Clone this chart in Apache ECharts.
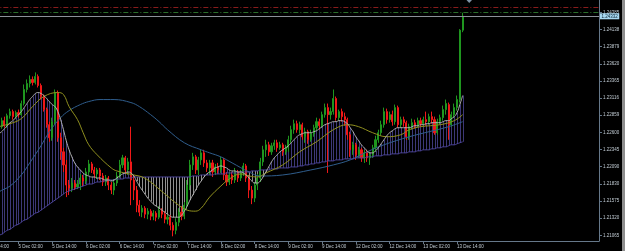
<!DOCTYPE html>
<html>
<head>
<meta charset="utf-8">
<script src="https://cdn.jsdelivr.net/npm/echarts@6/dist/echarts.min.js"></script>
<style>html,body{margin:0;padding:0;background:#000;}#c{width:625px;height:251px;}</style>
</head>
<body>
<div id="c"></div>
<script>
// ---- tick labels (every 12 hourly bars) ----
const tickLabels = ['4 Dec 14:00','5 Dec 02:00','5 Dec 14:00','6 Dec 02:00','6 Dec 14:00','7 Dec 02:00','7 Dec 14:00','8 Dec 02:00','8 Dec 14:00','9 Dec 02:00','9 Dec 14:00','12 Dec 02:00','12 Dec 14:00','13 Dec 02:00','13 Dec 14:00'];
const barsPerTick = 12;
const totalSlots = 219; // hourly slots incl. empty chart-shift area
const yTickLabels = [1.24385,1.24138,1.23879,1.23620,1.23365,1.23116,1.22859,1.22600,1.22345,1.22090,1.21830,1.21575,1.21320,1.21065];
const bidPrice = 1.24332;
const redLevel = 1.24466;
const greenLevel = 1.24385;

// ---- hourly candles: [open, close, low, high] ----
const candles = [
[1.22790,1.22820,1.22745,1.22865],[1.22820,1.22760,1.22715,1.22850],[1.22760,1.22850,1.22730,1.22895],[1.22850,1.22910,1.22820,1.22955],
[1.22910,1.22940,1.22865,1.22985],[1.22940,1.22685,1.22640,1.22970],[1.22685,1.22775,1.22655,1.22820],[1.22775,1.22700,1.22670,1.22835],
[1.22700,1.22850,1.22670,1.22880],[1.22850,1.22910,1.22805,1.22955],[1.22910,1.22835,1.22790,1.22940],[1.22835,1.22895,1.22805,1.22925],
[1.22895,1.22865,1.22820,1.22940],[1.22865,1.23030,1.22850,1.23075],[1.23030,1.23240,1.23000,1.23315],[1.23240,1.23330,1.23195,1.23390],
[1.23330,1.23390,1.23270,1.23450],[1.23390,1.23345,1.23300,1.23435],[1.23345,1.23435,1.23315,1.23495],[1.23435,1.23300,1.23270,1.23465],
[1.23300,1.23135,1.23090,1.23330],[1.23135,1.22940,1.22910,1.23165],[1.22940,1.22715,1.22670,1.22970],[1.22715,1.22520,1.22460,1.22760],
[1.22520,1.22760,1.22475,1.22820],[1.22760,1.23195,1.22715,1.23240],[1.23195,1.22520,1.22460,1.23225],[1.22520,1.22310,1.22190,1.22595],
[1.22310,1.22115,1.22010,1.22370],[1.22115,1.21815,1.21635,1.22190],[1.21815,1.21770,1.21665,1.21890],[1.21770,1.21845,1.21710,1.21920],
[1.21845,1.21785,1.21740,1.21890],[1.21785,1.21830,1.21755,1.21890],[1.21830,1.21920,1.21740,1.21980],[1.21920,1.21875,1.21800,1.21965],
[1.21875,1.22010,1.21830,1.22070],[1.22010,1.22130,1.21965,1.22190],[1.22130,1.22040,1.21995,1.22160],[1.22040,1.21980,1.21920,1.22085],
[1.21980,1.22040,1.21905,1.22070],[1.22040,1.21950,1.21890,1.22070],[1.21950,1.21860,1.21800,1.21995],[1.21860,1.21920,1.21800,1.21965],
[1.21920,1.21815,1.21740,1.21950],[1.21815,1.21740,1.21680,1.21860],[1.21740,1.21845,1.21665,1.21905],[1.21845,1.21950,1.21800,1.22010],
[1.21950,1.22115,1.21920,1.22190],[1.22115,1.22220,1.22070,1.22265],[1.22220,1.22040,1.21980,1.22250],[1.22040,1.22160,1.21965,1.22220],
[1.22160,1.21890,1.21515,1.22685],[1.21890,1.21740,1.21590,1.21965],[1.21740,1.21515,1.21410,1.21800],[1.21515,1.21410,1.21350,1.21590],
[1.21410,1.21470,1.21335,1.21515],[1.21470,1.21380,1.21320,1.21500],[1.21380,1.21425,1.21305,1.21470],[1.21425,1.21350,1.21290,1.21455],
[1.21350,1.21395,1.21290,1.21440],[1.21395,1.21335,1.21275,1.21425],[1.21335,1.21440,1.21305,1.21500],[1.21440,1.21380,1.21320,1.21470],
[1.21380,1.21305,1.21245,1.21425],[1.21305,1.21335,1.21230,1.21380],[1.21335,1.21215,1.21140,1.21365],[1.21215,1.21140,1.21050,1.21260],
[1.21140,1.21260,1.21080,1.21320],[1.21260,1.21410,1.21200,1.21470],[1.21410,1.21350,1.21290,1.21500],[1.21350,1.21515,1.21305,1.21560],
[1.21515,1.21815,1.21440,1.21890],[1.21815,1.22115,1.21740,1.22190],[1.22115,1.22235,1.22040,1.22295],[1.22235,1.22040,1.21980,1.22265],
[1.22040,1.22190,1.21965,1.22235],[1.22190,1.22295,1.22115,1.22340],[1.22295,1.22145,1.22085,1.22340],[1.22145,1.22070,1.22010,1.22190],
[1.22070,1.22145,1.21965,1.22190],[1.22145,1.22010,1.21935,1.22190],[1.22010,1.22085,1.21965,1.22130],[1.22085,1.22040,1.21980,1.22145],
[1.22040,1.22190,1.21995,1.22235],[1.22190,1.21965,1.21890,1.22220],[1.21965,1.21860,1.21800,1.22010],[1.21860,1.21965,1.21815,1.22010],
[1.21965,1.21890,1.21830,1.22010],[1.21890,1.22010,1.21845,1.22070],[1.22010,1.21920,1.21860,1.22040],[1.21920,1.21995,1.21875,1.22040],
[1.21995,1.22100,1.21950,1.22145],[1.22100,1.21920,1.21860,1.22130],[1.21920,1.21740,1.21620,1.21965],[1.21740,1.21620,1.21530,1.21800],
[1.21620,1.21815,1.21560,1.21860],[1.21815,1.21920,1.21740,1.21980],[1.21920,1.22160,1.21860,1.22220],[1.22160,1.22340,1.22100,1.22400],
[1.22340,1.22415,1.22235,1.22490],[1.22415,1.22310,1.22250,1.22460],[1.22310,1.22400,1.22265,1.22445],[1.22400,1.22445,1.22340,1.22490],
[1.22445,1.22370,1.22310,1.22490],[1.22370,1.22415,1.22340,1.22460],[1.22415,1.22310,1.22250,1.22445],[1.22310,1.22370,1.22265,1.22415],
[1.22370,1.22490,1.22310,1.22550],[1.22490,1.22640,1.22445,1.22700],[1.22640,1.22730,1.22580,1.22790],[1.22730,1.22640,1.22595,1.22775],
[1.22640,1.22715,1.22580,1.22760],[1.22715,1.22535,1.22490,1.22745],[1.22535,1.22610,1.22445,1.22670],[1.22610,1.22490,1.22430,1.22640],
[1.22490,1.22580,1.22460,1.22640],[1.22580,1.22670,1.22535,1.22715],[1.22670,1.22760,1.22625,1.22820],[1.22760,1.22700,1.22640,1.22805],
[1.22700,1.22865,1.22670,1.22910],[1.22865,1.22970,1.22820,1.23030],[1.22970,1.22865,1.21995,1.23030],[1.22865,1.22910,1.22790,1.22970],
[1.22910,1.23105,1.22865,1.23240],[1.23105,1.22820,1.22775,1.23135],[1.22820,1.22910,1.22775,1.22940],[1.22910,1.22835,1.22760,1.22955],
[1.22835,1.22790,1.22700,1.22895],[1.22790,1.22565,1.22490,1.22820],[1.22565,1.22340,1.22235,1.22610],[1.22340,1.22415,1.22265,1.22460],
[1.22415,1.22265,1.22190,1.22445],[1.22265,1.22340,1.22220,1.22385],[1.22340,1.22220,1.22160,1.22370],[1.22220,1.22295,1.22145,1.22340],
[1.22295,1.22220,1.22160,1.22340],[1.22220,1.22265,1.22115,1.22310],[1.22265,1.22370,1.22220,1.22415],[1.22370,1.22490,1.22310,1.22550],
[1.22490,1.22595,1.22445,1.22640],[1.22595,1.22715,1.22550,1.22775],[1.22715,1.22910,1.22670,1.22970],[1.22910,1.22790,1.22730,1.22955],
[1.22790,1.22865,1.22745,1.22910],[1.22865,1.22760,1.22700,1.22925],[1.22760,1.22970,1.22715,1.23015],[1.22970,1.22715,1.22670,1.23000],
[1.22715,1.22790,1.22670,1.22835],[1.22790,1.22745,1.22685,1.22835],[1.22745,1.22535,1.22490,1.22775],[1.22535,1.22685,1.22490,1.22730],
[1.22685,1.22745,1.22640,1.22805],[1.22745,1.22700,1.22655,1.22790],[1.22700,1.22775,1.22670,1.22820],[1.22775,1.22730,1.22685,1.22820],
[1.22730,1.22790,1.22700,1.22835],[1.22790,1.22760,1.22700,1.22910],[1.22760,1.22835,1.22715,1.22880],[1.22835,1.22790,1.22730,1.22910],
[1.22790,1.22595,1.22565,1.22835],[1.22595,1.22760,1.22565,1.22805],[1.22760,1.22820,1.22715,1.22865],[1.22820,1.22940,1.22775,1.23000],
[1.22940,1.23030,1.22865,1.23090],[1.23015,1.22715,1.22490,1.23045],[1.22715,1.22865,1.22685,1.22910],[1.22865,1.22970,1.22820,1.23030],
[1.22970,1.23090,1.22925,1.23150],[1.23090,1.24125,1.23045,1.24140],[1.24125,1.24332,1.24095,1.24385]
];

// ---- fast MA (grey) and slowest MA (slate) per bar ----
const maFast = [
1.22490,1.22505,1.22520,1.22535,1.22550,1.22580,1.22610,1.22655,1.22700,1.22745,1.22775,1.22820,1.22865,1.22910,1.22970,1.23030,
1.23090,1.23135,1.23180,1.23195,1.23180,1.23150,1.23105,1.23060,1.23015,1.22985,1.22910,1.22790,1.22640,1.22475,1.22340,1.22235,
1.22145,1.22085,1.22040,1.21995,1.21965,1.21950,1.21935,1.21935,1.21920,1.21920,1.21905,1.21890,1.21890,1.21875,1.21890,1.21920,
1.21950,1.21980,1.21995,1.22010,1.21995,1.21950,1.21875,1.21800,1.21740,1.21680,1.21620,1.21575,1.21530,1.21500,1.21470,1.21440,
1.21410,1.21380,1.21350,1.21335,1.21335,1.21335,1.21365,1.21425,1.21500,1.21590,1.21665,1.21740,1.21815,1.21875,1.21935,1.21980,
1.22010,1.22040,1.22070,1.22085,1.22100,1.22085,1.22070,1.22040,1.22025,1.22025,1.22010,1.22010,1.21995,1.21965,1.21920,1.21875,
1.21845,1.21845,1.21875,1.21935,1.22010,1.22085,1.22160,1.22220,1.22265,1.22310,1.22340,1.22370,1.22400,1.22445,1.22490,1.22535,
1.22565,1.22580,1.22595,1.22595,1.22595,1.22610,1.22625,1.22655,1.22685,1.22715,1.22730,1.22745,1.22760,1.22760,1.22775,1.22775,
1.22760,1.22730,1.22670,1.22610,1.22535,1.22475,1.22415,1.22370,1.22325,1.22295,1.22295,1.22325,1.22370,1.22430,1.22490,1.22550,
1.22595,1.22625,1.22655,1.22670,1.22670,1.22670,1.22670,1.22670,1.22685,1.22700,1.22700,1.22715,1.22715,1.22730,1.22730,1.22745,
1.22745,1.22745,1.22745,1.22760,1.22775,1.22775,1.22805,1.22835,1.22895,1.23015,1.23150
];
const maSlow = [
1.20960,1.20975,1.20990,1.21020,1.21035,1.21065,1.21080,1.21110,1.21140,1.21155,1.21185,1.21215,1.21230,1.21260,1.21290,1.21305,
1.21335,1.21365,1.21395,1.21410,1.21440,1.21470,1.21500,1.21530,1.21560,1.21590,1.21620,1.21650,1.21680,1.21710,1.21725,1.21740,
1.21755,1.21770,1.21785,1.21800,1.21815,1.21830,1.21830,1.21845,1.21860,1.21860,1.21875,1.21875,1.21890,1.21890,1.21890,1.21905,
1.21905,1.21905,1.21920,1.21920,1.21920,
1.21935,1.21935,1.21935,1.21935,1.21935,1.21935,1.21935,1.21935,1.21935,1.21935,1.21935,1.21935,1.21935,1.21935,1.21935,1.21935,
1.21935,1.21935,1.21935,1.21935,1.21935,
1.21950,1.21950,1.21950,1.21965,1.21965,1.21965,1.21965,1.21965,1.21980,1.21980,1.21980,1.21980,
1.21995,1.21995,1.21995,1.21995,1.21995,1.22010,1.22010,1.22010,1.22010,1.22025,1.22025,1.22025,
1.22040,1.22040,1.22040,1.22040,1.22055,1.22055,1.22055,1.22070,1.22070,1.22070,1.22070,1.22085,1.22085,1.22085,
1.22100,1.22100,1.22115,1.22115,1.22130,1.22130,1.22145,1.22145,1.22160,1.22160,1.22175,1.22175,1.22175,
1.22190,1.22190,1.22190,1.22205,1.22205,1.22205,1.22205,1.22220,1.22220,1.22220,1.22220,1.22235,1.22235,1.22235,
1.22250,1.22250,1.22250,1.22265,1.22265,1.22265,1.22280,1.22280,1.22280,1.22295,1.22295,1.22295,1.22310,1.22310,1.22310,
1.22325,1.22325,1.22340,1.22340,1.22340,1.22355,1.22355,1.22370,1.22370,1.22385,1.22385,1.22400,1.22415,1.22415,1.22430,1.22445,1.22460
];
// ---- medium (olive) and slow (blue) MAs, read at sampled bars: [barIndex, price] ----
const maMid = [
[0,1.22610],[5,1.22685],[9,1.22730],[13,1.22805],[17,1.22985],[21,1.23135],[26,1.23195],[28,1.23165],[30,1.22985],[33,1.22790],
[35,1.22595],[37,1.22415],[40,1.22265],[45,1.22070],[47,1.22025],[53,1.21965],[56,1.21935],[59,1.21860],[62,1.21755],[65,1.21650],
[68,1.21545],[72,1.21440],[75,1.21425],[77,1.21470],[80,1.21635],[84,1.21800],[87,1.21905],[91,1.21980],[94,1.21950],[97,1.21935],
[100,1.21995],[106,1.22115],[112,1.22310],[118,1.22460],[124,1.22640],[129,1.22715],[133,1.22685],[138,1.22595],[143,1.22535],
[148,1.22565],[151,1.22640],[155,1.22685],[162,1.22715],[167,1.22775],[170,1.22865]
];
const maSlowBlue = [
[0,1.21515],[5,1.21710],[9,1.21800],[13,1.21965],[16,1.22145],[20,1.22400],[23,1.22610],[27,1.22820],[30,1.22925],[34,1.23015],
[37,1.23060],[41,1.23090],[46,1.23090],[52,1.23045],[55,1.22985],[59,1.22865],[62,1.22760],[65,1.22640],[71,1.22445],[77,1.22340],
[80,1.22295],[84,1.22235],[88,1.22145],[94,1.22010],[98,1.21950],[106,1.21965],[116,1.22040],[124,1.22115],[130,1.22190],
[136,1.22310],[142,1.22415],[151,1.22535],[158,1.22610],[165,1.22685],[170,1.22760]
];

// ---- categories built from tick labels ----
const categories = [];
for (let k = 0; k < totalSlots; k++) {
  const t = Math.floor(k / barsPerTick), h = k % barsPerTick;
  categories.push(h === 0 && t < tickLabels.length ? tickLabels[t] : 'slot' + k);
}
const isTick = (idx, val) => tickLabels.indexOf(val) >= 0;

const axisCol = '#66788a';
const txtCol = '#c2ccd4';
const font = 'Liberation Sans';

const chart = echarts.init(document.getElementById('c'), null, {renderer: 'canvas'});
chart.setOption({
  backgroundColor: '#000000',
  animation: false,
  grid: {left: -16.65, right: 26, top: 0, bottom: 10, containLabel: false, outerBoundsMode: 'none'},
  xAxis: {
    type: 'category', data: categories, boundaryGap: true,
    axisLine: {show: true, lineStyle: {color: axisCol, width: 1}},
    axisTick: {show: true, alignWithLabel: true, interval: isTick, length: 3, lineStyle: {color: axisCol}},
    axisLabel: {interval: isTick, align: 'left', color: txtCol, fontSize: 4.5, fontFamily: font, margin: 3, hideOverlap: false},
    splitLine: {show: false}
  },
  yAxis: {
    type: 'value', position: 'right', min: 1.20980, max: 1.24575, scale: true,
    axisLine: {show: true, lineStyle: {color: axisCol, width: 1}},
    axisTick: {show: true, length: 3, customValues: yTickLabels, lineStyle: {color: axisCol}},
    axisLabel: {customValues: yTickLabels, color: txtCol, fontSize: 4.5, fontFamily: font, margin: 4,
      formatter: v => v.toFixed(5)},
    splitLine: {show: false}
  },
  graphic: [
    {type: 'rect', shape: {x: 622, y: 0, width: 3, height: 251}, style: {fill: '#8e8e8e'}, z: 100},
    {type: 'polygon', shape: {points: [[466.5, 0], [472, 0], [469.2, 3]]}, style: {fill: '#7f93a6'}, z: 100}
  ],
  series: [
    {
      type: 'custom', z: 1, silent: true, clip: true,
      data: maFast.map((v, i) => [i, v, maSlow[i]]),
      encode: {x: 0, y: [1, 2]},
      renderItem: (params, api) => {
        const i = api.value(0), a = api.value(1), b = api.value(2);
        const p1 = api.coord([i, a]), p2 = api.coord([i, b]);
        const x = Math.round(p1[0]) + 0.5;
        return {type: 'line', shape: {x1: x, y1: p1[1], x2: x, y2: p2[1]},
          style: {stroke: a > b ? '#3d3877' : '#909090', lineWidth: 1}};
      }
    },
    {
      type: 'candlestick', z: 2, data: candles, barWidth: 1.6,
      itemStyle: {color: '#1f961f', color0: '#f01818', borderColor: '#1f961f', borderColor0: '#f01818', borderWidth: 1},
      markLine: {
        symbol: 'none', silent: true, animation: false, precision: 5,
        data: [
          {yAxis: redLevel, lineStyle: {color: '#8a1c1c', type: [5, 2, 1, 2], width: 1}, label: {show: false}},
          {yAxis: greenLevel, lineStyle: {color: '#2a6e2a', type: [5, 2, 1, 2], width: 1}, label: {show: false}},
          {yAxis: bidPrice, lineStyle: {color: '#8c9198', type: 'solid', width: 1},
            label: {show: true, position: 'end', distance: 1, formatter: '1.24332', color: '#0a2030',
              backgroundColor: '#a8d9f2', padding: [0.5, 1.5, 0.5, 1.5], fontSize: 4.5, fontFamily: font}}
        ]
      }
    },
    {type: 'line', z: 3, data: maSlowBlue, showSymbol: false, smooth: 0.4, silent: true,
      lineStyle: {color: '#2f5d8c', width: 1}},
    {type: 'line', z: 3, data: maSlow, showSymbol: false, smooth: true, silent: true,
      lineStyle: {color: '#4f47a0', width: 1}},
    {type: 'line', z: 4, data: maMid, showSymbol: false, smooth: 0.4, silent: true,
      lineStyle: {color: '#8f8f1f', width: 1}},
    {type: 'line', z: 4, data: maFast, showSymbol: false, smooth: true, silent: true,
      lineStyle: {color: '#b2b2b2', width: 1}}
  ]
});
</script>
</body>
</html>
